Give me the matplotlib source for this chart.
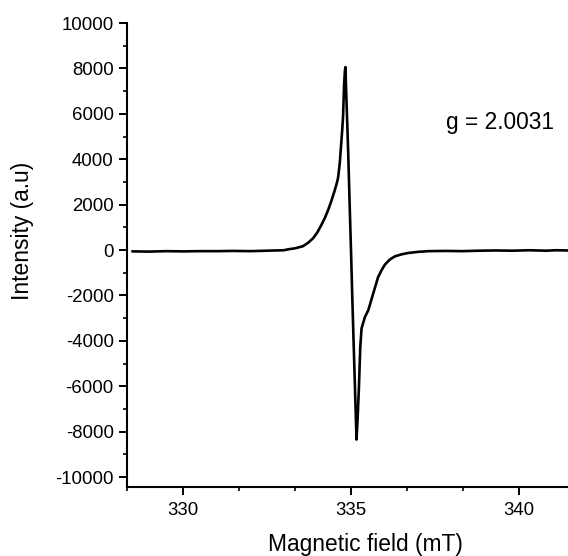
import matplotlib
matplotlib.use("Agg")
import matplotlib.pyplot as plt
from matplotlib.ticker import MultipleLocator

# EPR spectrum, values
field_mT = [328.5, 329.0, 329.5, 330.0, 330.5, 331.0, 331.5, 332.0, 332.5, 333.0,
            333.13, 333.35, 333.57, 333.72, 333.87, 334.0, 334.12, 334.22, 334.32, 334.42,
            334.51, 334.57, 334.61, 334.66, 334.69, 334.73, 334.76, 334.79, 334.815, 334.83,
            334.845, 334.87, 334.91, 334.95, 335.0, 335.04, 335.08, 335.12, 335.16, 335.19,
            335.23, 335.27, 335.31, 335.36, 335.41, 335.51, 335.6, 335.7, 335.8, 335.9,
            336.0, 336.15, 336.3, 336.5, 336.7, 337.0, 337.3, 337.8, 338.3, 338.8,
            339.3, 339.8, 340.3, 340.8, 341.1, 341.45]
intensity = [-60, -70, -50, -60, -50, -50, -40, -50, -30, -10,
             30, 80, 170, 320, 520, 790, 1120, 1420, 1780, 2200,
             2620, 2930, 3170, 3800, 4400, 5200, 5900, 7300, 7900, 8060,
             7300, 6200, 4400, 2300, -250, -2400, -4400, -6400, -8350, -7500,
             -6100, -4300, -3450, -3200, -2950, -2650, -2200, -1700, -1200, -900,
             -650, -420, -280, -190, -130, -80, -50, -40, -50, -30,
             -20, -30, -10, -30, -10, -20]

g_label = "g = 2.0031"

plt.rcParams['font.family'] = ['Liberation Sans', 'DejaVu Sans']
plt.rcParams['axes.unicode_minus'] = False

fig = plt.figure(figsize=(5.68, 5.56), dpi=100)
ax = fig.add_axes([0.2236, 0.1241, 0.7764, 0.8345])

ax.plot(field_mT, intensity, color='black', linewidth=1.9, solid_joinstyle='round')

ax.set_xlim(328.333, 341.45)
ax.set_ylim(-10440, 10000)

ax.xaxis.set_major_locator(MultipleLocator(5))
ax.xaxis.set_minor_locator(MultipleLocator(5 / 3))
ax.yaxis.set_major_locator(MultipleLocator(2000))
ax.yaxis.set_minor_locator(MultipleLocator(1000))

for side in ('top', 'right'):
    ax.spines[side].set_visible(False)
for side in ('left', 'bottom'):
    ax.spines[side].set_linewidth(1.5)

ax.tick_params(which='major', direction='out', length=6, width=1.4, labelsize=13.4, pad=3.5)
ax.tick_params(which='minor', direction='out', length=3.2, width=1.2)
ax.tick_params(axis='x', which='major', pad=5)

ax.set_xlabel("Magnetic field (mT)", fontsize=16.4)
ax.set_ylabel("Intensity (a.u)", fontsize=16.4)
ax.xaxis.set_label_coords(0.54, -0.099)
ax.yaxis.set_label_coords(-0.211, 0.552)

ax.text(337.83, 5330, g_label, fontsize=16.4, ha='left', va='baseline')

fig.savefig("out.png", dpi=100)
